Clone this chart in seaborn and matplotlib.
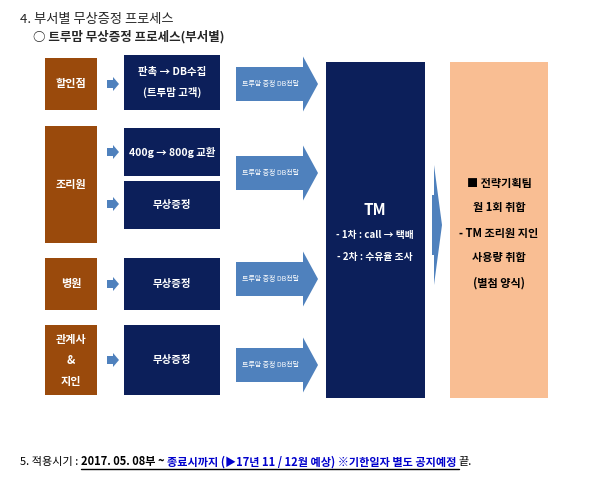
import matplotlib
matplotlib.use("Agg")
import matplotlib.pyplot as plt
import seaborn as sns
from matplotlib.patches import Rectangle, Polygon

sns.set_style("white")
plt.rcParams["font.family"] = ["Noto Sans CJK KR", "Noto Sans CJK JP", "Noto Sans CJK SC", "DejaVu Sans"]

depts = ["할인점", "조리원", "병원", "관계사\n&\n지인"]
actions = ["판촉 → DB수집\n(트루맘 고객)", "400g → 800g 교환", "무상증정", "무상증정", "무상증정"]
arrow_label = "트루맘 증정 DB전달"
tm_lines = ["TM", "- 1차 : call → 택배", "- 2차 : 수유율 조사"]
team_lines = ["■ 전략기획팀", "월 1회 취합", "- TM 조리원 지인", "사용량 취합", "(별첨 양식)"]

BROWN = "#9A4A0C"; NAVY = "#0C1F5A"; BLUE = "#4F81BD"; ORANGE = "#F9BE93"

fig = plt.figure(figsize=(6, 4.96), dpi=100)
ax = fig.add_axes([0, 0, 1, 1])
ax.set_xlim(0, 600); ax.set_ylim(496, 0); ax.axis("off")

def box(x0, y0, x1, y1, c):
    ax.add_patch(Rectangle((x0, y0), x1 - x0, y1 - y0, color=c, lw=0))

def rarrow(x0, x1, yc, h, bh, hl, c):
    pts = [(x0, yc - bh/2), (x1 - hl, yc - bh/2), (x1 - hl, yc - h/2), (x1, yc),
           (x1 - hl, yc + h/2), (x1 - hl, yc + bh/2), (x0, yc + bh/2)]
    ax.add_patch(Polygon(pts, closed=True, color=c, lw=0))

ax.text(20, 20, "4. 부서별 무상증정 프로세스", fontsize=9.5, va="center", ha="left")
ax.text(33, 37, "○ 트루맘 무상증정 프로세스(부서별)", fontsize=9, va="center", ha="left", fontweight="bold")

dept_y = [(58, 110), (126, 243), (258, 310), (325, 395)]
for (y0, y1), lab in zip(dept_y, depts):
    box(45, y0, 97, y1, BROWN)
    ax.text(71, (y0 + y1)/2, lab, color="white", fontsize=8, ha="center", va="center", fontweight="bold", linespacing=1.8)

for yc in [84, 152, 204, 284, 360]:
    rarrow(107, 119, yc, 14, 8, 6, BLUE)

act_y = [(55, 110), (128, 176), (181, 229), (258, 310), (325, 395)]
for (y0, y1), lab in zip(act_y, actions):
    box(124, y0, 220, y1, NAVY)
    ax.text(172, (y0 + y1)/2, lab, color="white", fontsize=7.5, ha="center", va="center", fontweight="bold", linespacing=2.0)

for yc in [84, 173, 279, 365]:
    rarrow(236, 318, yc, 55, 34, 15, BLUE)
    ax.text(270, yc, arrow_label, color="white", fontsize=5, ha="center", va="center")

box(326, 62, 425, 398, NAVY)
ax.text(375, 210, tm_lines[0], color="white", fontsize=11, ha="center", va="center", fontweight="bold")
ax.text(375, 235, tm_lines[1], color="white", fontsize=7, ha="center", va="center", fontweight="bold")
ax.text(375, 257, tm_lines[2], color="white", fontsize=7, ha="center", va="center", fontweight="bold")

rarrow(432, 442, 225, 120, 60, 8, BLUE)

box(450, 62, 548, 398, ORANGE)
for i, t in enumerate(team_lines):
    ax.text(499, 183 + i * 25, t, color="black", fontsize=8, ha="center", va="center", fontweight="bold")

segs = [("5. 적용시기 : ", "black", "normal"),
        ("2017. 05. 08부 ~ ", "black", "bold"),
        ("종료시까지 (▶17년 11 / 12월 예상) ※기한일자 별도 공지예정 ", "#0000CC", "bold"),
        ("끝.", "black", "normal")]
fig.canvas.draw()
r = fig.canvas.get_renderer()
x = 20
inv = ax.transData.inverted()
starts = []
for s, c, w in segs:
    t = ax.text(x, 462, s, color=c, fontsize=8, fontweight=w, ha="left", va="center")
    bb = t.get_window_extent(r)
    p0 = inv.transform((bb.x0, bb.y0)); p1 = inv.transform((bb.x1, bb.y0))
    starts.append((x, x + (p1[0] - p0[0])))
    x = x + (p1[0] - p0[0])
ax.plot([starts[1][0], starts[2][1]], [469, 469], color="black", lw=1)

fig.savefig("out.png", dpi=100)
